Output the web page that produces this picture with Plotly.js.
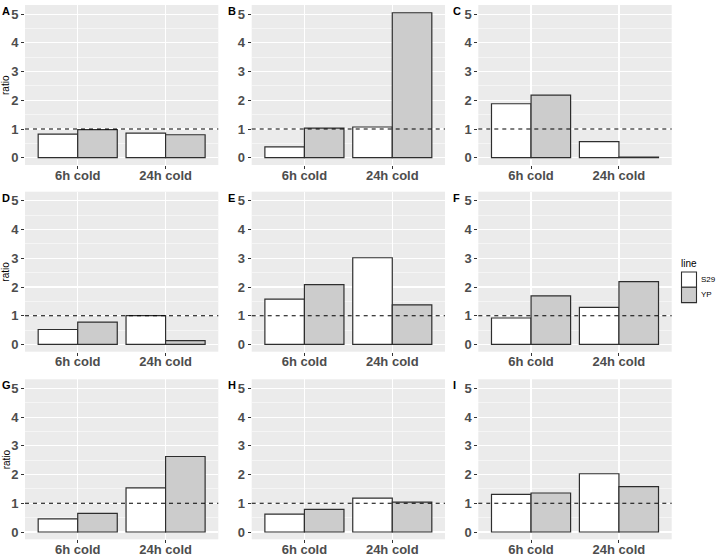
<!DOCTYPE html>
<html>
<head>
<meta charset="utf-8">
<script src="https://cdn.plot.ly/plotly-3.0.1.min.js"></script>
<style>html,body{margin:0;padding:0;background:#fff;}#chart{width:717px;height:558px;}</style>
</head>
<body>
<div id="chart"></div>
<script>
// ---- data ----
const categories = ["6h cold", "24h cold"];
const panels = ["A", "B", "C", "D", "E", "F", "G", "H", "I"];
const seriesNames = ["S29", "YP"];
const s29 = [
  [0.82, 0.86], [0.38, 1.07], [1.88, 0.56],
  [0.52, 1.00], [1.58, 3.02], [0.92, 1.29],
  [0.46, 1.54], [0.62, 1.18], [1.31, 2.03]
];
const yp = [
  [0.98, 0.80], [1.03, 5.05], [2.18, 0.02],
  [0.78, 0.13], [2.08, 1.38], [1.69, 2.19],
  [0.65, 2.63], [0.79, 1.04], [1.36, 1.58]
];
const yTicks = [0, 1, 2, 3, 4, 5];
const refLine = 1;

// ---- layout geometry (pixels) ----
const W = 717, H = 558;
const colPx = [[25, 218.3], [251.7, 445], [478.3, 671.7]];
const rowPx = [[5, 165], [191.7, 351.7], [379.3, 539.3]];
const letterX = [-0.5, 225.5, 451.5];
const letterOffY = 6;

const fills = ["#FFFFFF", "#CCCCCC"];
const outline = "#2E2E2E";
const font = "Liberation Sans, Arial, Helvetica, sans-serif";

const traces = [];
const layout = {
  width: W, height: H,
  margin: {l: 0, r: 0, t: 0, b: 0},
  paper_bgcolor: "#FFFFFF",
  plot_bgcolor: "#EBEBEB",
  barmode: "group",
  bargap: 0.1,
  bargroupgap: 0,
  showlegend: false,
  font: {family: font},
  shapes: [],
  annotations: []
};

panels.forEach((p, i) => {
  const r = Math.floor(i / 3), c = i % 3;
  const n = i + 1;
  const xa = n === 1 ? "x" : "x" + n;
  const ya = n === 1 ? "y" : "y" + n;
  const xk = n === 1 ? "xaxis" : "xaxis" + n;
  const yk = n === 1 ? "yaxis" : "yaxis" + n;
  [s29[i], yp[i]].forEach((vals, k) => {
    traces.push({
      type: "bar", x: categories, y: vals, name: seriesNames[k],
      xaxis: xa, yaxis: ya,
      marker: {color: fills[k], line: {color: outline, width: 1.2}},
      hoverinfo: "x+y+name"
    });
  });
  layout[xk] = {
    domain: [colPx[c][0] / W, colPx[c][1] / W],
    anchor: ya, type: "category", range: [-0.6, 1.6],
    showgrid: true, gridcolor: "#FFFFFF", gridwidth: 1.1,
    zeroline: false, showline: false,
    ticks: "outside", ticklen: 3, tickwidth: 1, tickcolor: "#333333",
    ticklabelstandoff: -5,
    tickfont: {family: font, size: 13, color: "#4D4D4D", weight: "bold"},
    fixedrange: true
  };
  layout[yk] = {
    domain: [1 - rowPx[r][1] / H, 1 - rowPx[r][0] / H],
    anchor: xa, range: [-0.2535, 5.32],
    tickmode: "array", tickvals: yTicks, ticktext: yTicks.map(String),
    showgrid: true, gridcolor: "#FFFFFF", gridwidth: 1.1,
    minor: {tickmode: "linear", tick0: 0.5, dtick: 1, showgrid: true, gridcolor: "#FFFFFF", gridwidth: 0.5, ticks: ""},
    zeroline: false, showline: false,
    ticks: "outside", ticklen: 3, tickwidth: 1, tickcolor: "#333333",
    tickfont: {family: font, size: 13, color: "#4D4D4D", weight: "bold"},
    fixedrange: true
  };
  layout.shapes.push({
    type: "line", xref: xa + " domain", yref: ya,
    x0: 0, x1: 1, y0: refLine, y1: refLine,
    line: {color: "#000000", width: 1.1, dash: "4px,4px"}, layer: "above"
  });
  layout.annotations.push({
    text: "<b>" + p + "</b>", xref: "paper", yref: "paper",
    x: letterX[c] / W, y: 1 - (rowPx[r][0] + letterOffY) / H, xanchor: "left", yanchor: "middle",
    showarrow: false, font: {family: font, size: 11, color: "#000000"}
  });
  if (c === 0) {
    layout.annotations.push({
      text: "ratio", xref: "paper", yref: "paper",
      x: 6 / W, y: 1 - (rowPx[r][0] + rowPx[r][1]) / 2 / H,
      xanchor: "center", yanchor: "middle", textangle: -90,
      showarrow: false, font: {family: font, size: 10, color: "#000000"}
    });
  }
});

// ---- legend (drawn manually, ggplot style) ----
const legX0 = 681.5, legX1 = 696.5, legY = [272, 287.3, 302.6];
layout.annotations.push({
  text: "line", xref: "paper", yref: "paper", x: 679 / W, y: 1 - 263 / H,
  xanchor: "left", yanchor: "middle", showarrow: false,
  font: {family: font, size: 10, color: "#000000"}
});
seriesNames.forEach((nm, k) => {
  layout.shapes.push({
    type: "rect", xref: "paper", yref: "paper",
    x0: legX0 / W, x1: legX1 / W, y0: 1 - legY[k + 1] / H, y1: 1 - legY[k] / H,
    fillcolor: fills[k], line: {color: outline, width: 1.1}
  });
  layout.annotations.push({
    text: nm, xref: "paper", yref: "paper", x: 698.5 / W, y: 1 - (legY[k] + legY[k + 1]) / 2 / H,
    xanchor: "left", yanchor: "middle", showarrow: false,
    font: {family: font, size: 8, color: "#000000"}
  });
});

Plotly.newPlot("chart", traces, layout, {displayModeBar: false, staticPlot: true});
</script>
</body>
</html>
